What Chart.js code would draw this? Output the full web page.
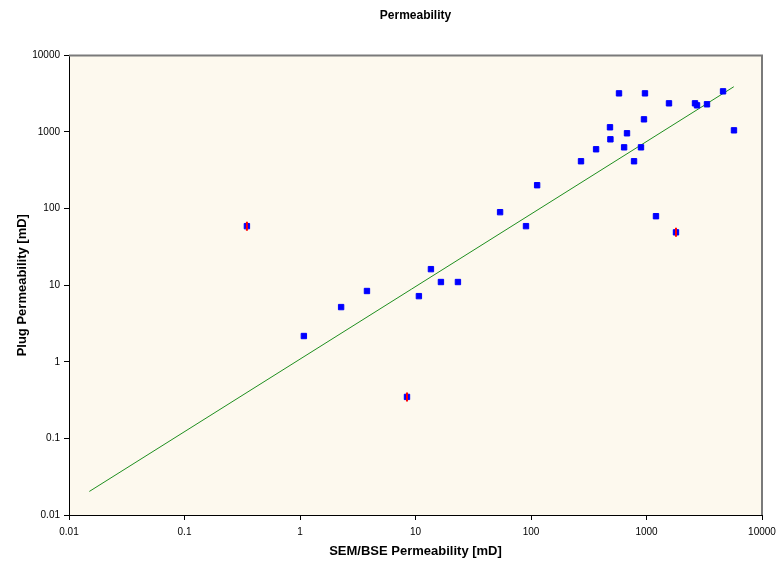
<!DOCTYPE html>
<html>
<head>
<meta charset="utf-8">
<script src="https://cdn.jsdelivr.net/npm/chart.js@4/dist/chart.umd.min.js"></script>
<style>
  html, body { margin: 0; padding: 0; background: #fff; }
  #wrap { width: 777px; height: 563px; }
</style>
</head>
<body>
<div id="wrap"><canvas id="perm"></canvas></div>
<script>
// SEM/BSE vs plug permeability, mD
const semPerm = [0.347, 1.08, 2.27, 3.8, 8.44, 10.7, 13.6, 16.6, 23.3, 54, 90.5, 113,
                 271, 366, 483, 487, 578, 640, 678, 780, 896, 951, 970, 1208, 1566,
                 1800, 2630, 2737, 3340, 4600, 5720]
const plugPerm = [59, 2.17, 5.18, 8.4, 0.348, 7.2, 16.2, 11, 11, 89.8, 59, 202,
                  415, 595, 1152, 803, 3196, 631, 962, 415, 631, 1464, 3196, 79.6, 2368,
                  49, 2368, 2230, 2300, 3395, 1052]

// flagged samples (red marks)
const flaggedSem = [0.347, 8.44, 1800]
const flaggedPlug = [59, 0.348, 49]

// power-law trend line end points
const trendSem = [0.015, 5700]
const trendPlug = [0.0203, 3900]

const tickValues = [0.01, 0.1, 1, 10, 100, 1000, 10000]
const tickLabels = ['0.01', '0.1', '1', '10', '100', '1000', '10000']

const toPoints = (xs, ys) => xs.map((x, i) => ({ x: x, y: ys[i] }))

const plotFrame = {
    id: 'plotFrame',
    beforeDraw(chart) {
        const a = chart.chartArea
        const ctx = chart.ctx
        ctx.save()
        ctx.fillStyle = '#fdf9ee'
        ctx.fillRect(a.left, a.top, a.right - a.left, a.bottom - a.top)
        ctx.restore()
    },
    afterDraw(chart) {
        const a = chart.chartArea
        const ctx = chart.ctx
        ctx.save()
        ctx.strokeStyle = '#7a7a7a'
        ctx.lineWidth = 2
        ctx.beginPath()
        ctx.moveTo(a.left, a.top)
        ctx.lineTo(a.right, a.top)
        ctx.lineTo(a.right, a.bottom)
        ctx.stroke()
        ctx.restore()
    }
}

const logTicks = (scale) => {
    scale.ticks = tickValues.map(v => ({ value: v }))
}

const fmt = (value) => {
    const i = tickValues.indexOf(value)
    return i >= 0 ? tickLabels[i] : ''
}

new Chart(document.getElementById('perm'), {
    type: 'scatter',
    data: {
        datasets: [
            {
                label: 'Flagged',
                data: toPoints(flaggedSem, flaggedPlug),
                pointStyle: 'line',
                rotation: 90,
                pointRadius: 4.5,
                borderWidth: 2,
                borderColor: '#ff0000',
                backgroundColor: '#ff0000',
                order: 0
            },
            {
                label: 'Samples',
                data: toPoints(semPerm, plugPerm),
                pointStyle: 'rect',
                pointRadius: 3.8,
                borderWidth: 1,
                borderColor: '#0000ff',
                backgroundColor: '#0000ff',
                order: 1
            },
            {
                label: 'Trend',
                type: 'line',
                data: toPoints(trendSem, trendPlug),
                borderColor: '#1f8f1f',
                borderWidth: 1,
                pointRadius: 0,
                fill: false,
                order: 2
            }
        ]
    },
    options: {
        animation: false,
        responsive: true,
        maintainAspectRatio: false,
        layout: { padding: { left: 15, right: 15, top: 0, bottom: 4 } },
        plugins: {
            legend: { display: false },
            tooltip: { enabled: false },
            title: {
                display: true,
                text: 'Permeability',
                fullSize: false,
                color: '#000',
                font: { family: 'Liberation Sans', size: 12, weight: 'bold' },
                padding: { top: 8, bottom: 33 }
            }
        },
        scales: {
            x: {
                type: 'logarithmic',
                min: 0.01,
                max: 10000,
                afterBuildTicks: logTicks,
                afterFit: (s) => {
                    s.height = 44
                    s.paddingLeft = 0
                    s.paddingRight = 0
                },
                border: { display: true, color: '#000', width: 1 },
                grid: { drawOnChartArea: false, drawTicks: true, tickLength: 5, color: '#000' },
                ticks: {
                    autoSkip: false,
                    maxRotation: 0,
                    color: '#000',
                    padding: 6,
                    font: { family: 'Liberation Sans', size: 10 },
                    callback: fmt
                },
                title: {
                    display: true,
                    text: 'SEM/BSE Permeability [mD]',
                    color: '#000',
                    padding: { top: 6, bottom: 0 },
                    font: { family: 'Liberation Sans', size: 13, weight: 'bold' }
                }
            },
            y: {
                type: 'logarithmic',
                min: 0.01,
                max: 10000,
                afterBuildTicks: logTicks,
                afterFit: (s) => { s.width = 54 },
                border: { display: true, color: '#000', width: 1 },
                grid: { drawOnChartArea: false, drawTicks: true, tickLength: 5, color: '#000' },
                ticks: {
                    autoSkip: false,
                    color: '#000',
                    padding: 4,
                    font: { family: 'Liberation Sans', size: 10 },
                    callback: fmt
                },
                title: {
                    display: true,
                    text: 'Plug Permeability [mD]',
                    color: '#000',
                    padding: { top: 0, bottom: 4 },
                    font: { family: 'Liberation Sans', size: 13, weight: 'bold' }
                }
            }
        }
    },
    plugins: [plotFrame]
});
</script>
</body>
</html>
